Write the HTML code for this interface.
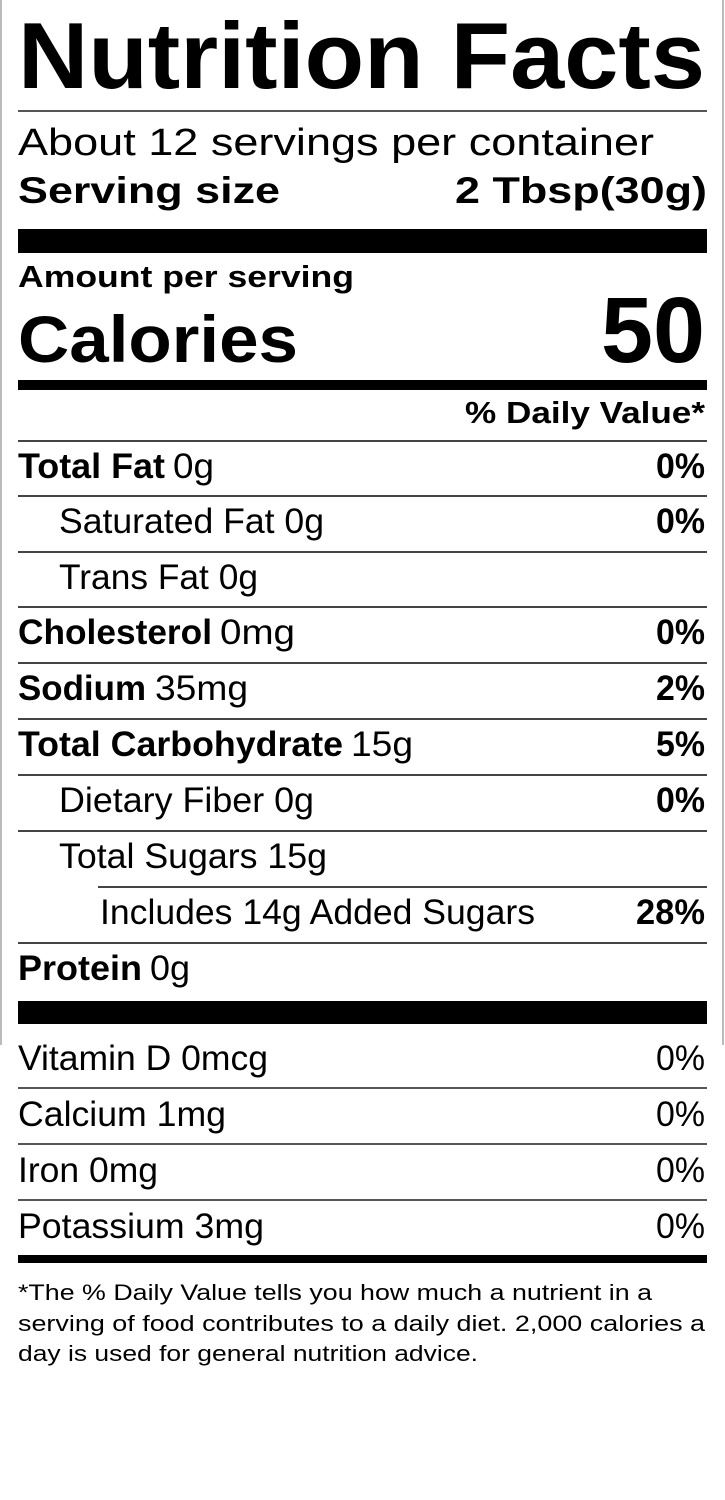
<!DOCTYPE html>
<html><head><meta charset="utf-8"><style>
html,body{margin:0;padding:0;background:#fff;}
svg{display:block;}
text{font-family:"Liberation Sans",Arial,sans-serif;fill:#000;}
.b{font-weight:bold;}
</style></head><body>
<svg width="725" height="1500" viewBox="0 0 725 1500" xmlns="http://www.w3.org/2000/svg">
<rect width="725" height="1500" fill="#fff"/>
<line x1="1" y1="0" x2="1" y2="1045" stroke="#bbb" stroke-width="2"/>
<line x1="723" y1="0" x2="723" y2="1045" stroke="#bbb" stroke-width="2"/>
<g>
<text class="b" x="18" y="88" font-size="94" textLength="687" lengthAdjust="spacingAndGlyphs">Nutrition Facts</text>
<rect x="18" y="110" width="689" height="2" fill="#555"/>
<text x="18" y="155" font-size="38" textLength="636" lengthAdjust="spacingAndGlyphs">About 12 servings per container</text>
<text class="b" x="18" y="203" font-size="37" textLength="262" lengthAdjust="spacingAndGlyphs">Serving size</text>
<text class="b" x="455" y="203" font-size="37" textLength="252" lengthAdjust="spacingAndGlyphs">2 Tbsp(30g)</text>
<rect x="18" y="229" width="689" height="24" fill="#000"/>
<text class="b" x="18" y="287" font-size="31" textLength="336" lengthAdjust="spacingAndGlyphs">Amount per serving</text>
<text class="b" x="18" y="362" font-size="66" textLength="280" lengthAdjust="spacingAndGlyphs">Calories</text>
<text class="b" x="601" y="362" font-size="93" textLength="104" lengthAdjust="spacingAndGlyphs">50</text>
<rect x="18" y="380" width="689" height="10" fill="#000"/>
<text class="b" x="465" y="423" font-size="31" textLength="240" lengthAdjust="spacingAndGlyphs">% Daily Value*</text>
<rect x="18" y="440" width="689" height="2" fill="#444"/>

<text class="b" x="18" y="478" font-size="35" textLength="147" lengthAdjust="spacingAndGlyphs">Total Fat</text>
<text x="173" y="478" font-size="35" textLength="41" lengthAdjust="spacingAndGlyphs">0g</text>
<text class="b" x="656" y="478" font-size="35" textLength="49" lengthAdjust="spacingAndGlyphs">0%</text>
<rect x="18" y="495" width="689" height="2" fill="#444"/>

<text x="59" y="533" font-size="35" textLength="265" lengthAdjust="spacingAndGlyphs">Saturated Fat 0g</text>
<text class="b" x="656" y="533" font-size="35" textLength="49" lengthAdjust="spacingAndGlyphs">0%</text>
<rect x="18" y="551" width="689" height="2" fill="#444"/>

<text x="59" y="589" font-size="35" textLength="199" lengthAdjust="spacingAndGlyphs">Trans Fat 0g</text>
<rect x="18" y="606" width="689" height="2" fill="#444"/>

<text class="b" x="18" y="644" font-size="35" textLength="194" lengthAdjust="spacingAndGlyphs">Cholesterol</text>
<text x="220" y="644" font-size="35" textLength="75" lengthAdjust="spacingAndGlyphs">0mg</text>
<text class="b" x="656" y="644" font-size="35" textLength="49" lengthAdjust="spacingAndGlyphs">0%</text>
<rect x="18" y="662" width="689" height="2" fill="#444"/>

<text class="b" x="18" y="700" font-size="35" textLength="128" lengthAdjust="spacingAndGlyphs">Sodium</text>
<text x="155" y="700" font-size="35" textLength="93" lengthAdjust="spacingAndGlyphs">35mg</text>
<text class="b" x="656" y="700" font-size="35" textLength="49" lengthAdjust="spacingAndGlyphs">2%</text>
<rect x="18" y="718" width="689" height="2" fill="#444"/>

<text class="b" x="18" y="756" font-size="35" textLength="325" lengthAdjust="spacingAndGlyphs">Total Carbohydrate</text>
<text x="351" y="756" font-size="35" textLength="62" lengthAdjust="spacingAndGlyphs">15g</text>
<text class="b" x="656" y="756" font-size="35" textLength="49" lengthAdjust="spacingAndGlyphs">5%</text>
<rect x="18" y="774" width="689" height="2" fill="#444"/>

<text x="59" y="812" font-size="35" textLength="255" lengthAdjust="spacingAndGlyphs">Dietary Fiber 0g</text>
<text class="b" x="656" y="812" font-size="35" textLength="49" lengthAdjust="spacingAndGlyphs">0%</text>
<rect x="18" y="830" width="689" height="2" fill="#444"/>

<text x="59" y="868" font-size="35" textLength="268" lengthAdjust="spacingAndGlyphs">Total Sugars 15g</text>
<rect x="98" y="886" width="609" height="2" fill="#444"/>

<text x="100" y="924" font-size="35" textLength="435" lengthAdjust="spacingAndGlyphs">Includes 14g Added Sugars</text>
<text class="b" x="636" y="924" font-size="35" textLength="69" lengthAdjust="spacingAndGlyphs">28%</text>
<rect x="18" y="942" width="689" height="2" fill="#444"/>

<text class="b" x="18" y="980" font-size="35" textLength="124" lengthAdjust="spacingAndGlyphs">Protein</text>
<text x="150" y="980" font-size="35" textLength="40" lengthAdjust="spacingAndGlyphs">0g</text>
<rect x="18" y="1001" width="689" height="23" fill="#000"/>

<text x="18" y="1070" font-size="35" textLength="250" lengthAdjust="spacingAndGlyphs">Vitamin D 0mcg</text>
<text x="656" y="1070" font-size="35" textLength="49" lengthAdjust="spacingAndGlyphs">0%</text>
<rect x="18" y="1087" width="689" height="2" fill="#555"/>

<text x="18" y="1126" font-size="35" textLength="208" lengthAdjust="spacingAndGlyphs">Calcium 1mg</text>
<text x="656" y="1126" font-size="35" textLength="49" lengthAdjust="spacingAndGlyphs">0%</text>
<rect x="18" y="1143" width="689" height="2" fill="#555"/>

<text x="18" y="1182" font-size="35" textLength="140" lengthAdjust="spacingAndGlyphs">Iron 0mg</text>
<text x="656" y="1182" font-size="35" textLength="49" lengthAdjust="spacingAndGlyphs">0%</text>
<rect x="18" y="1199" width="689" height="2" fill="#555"/>

<text x="18" y="1238" font-size="35" textLength="246" lengthAdjust="spacingAndGlyphs">Potassium 3mg</text>
<text x="656" y="1238" font-size="35" textLength="49" lengthAdjust="spacingAndGlyphs">0%</text>
<rect x="18" y="1255" width="689" height="8" fill="#000"/>

<text x="18" y="1300" font-size="22" textLength="634" lengthAdjust="spacingAndGlyphs">*The % Daily Value tells you how much a nutrient in a</text>
<text x="18" y="1331" font-size="22" textLength="687" lengthAdjust="spacingAndGlyphs">serving of food contributes to a daily diet. 2,000 calories a</text>
<text x="18" y="1361" font-size="22" textLength="460" lengthAdjust="spacingAndGlyphs">day is used for general nutrition advice.</text>
</g>
</svg>
</body></html>
